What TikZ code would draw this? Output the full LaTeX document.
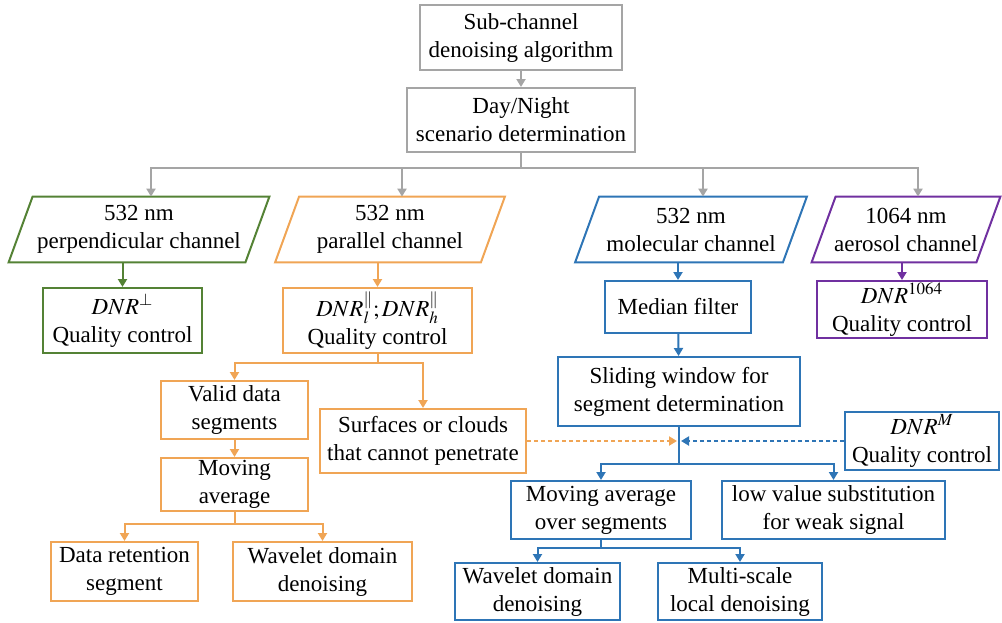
\documentclass[tikz,border=0pt]{standalone}
\usepackage{mathptmx}
\usepackage[no-math]{fontspec}
\setmainfont{Liberation Serif}
\newfontfamily\dnfont{Liberation Serif}
\usetikzlibrary{arrows.meta}
\definecolor{dngray}{RGB}{165,165,165}
\definecolor{dngreen}{RGB}{84,130,53}
\definecolor{dnorange}{RGB}{240,165,85}
\definecolor{dnblue}{RGB}{46,117,182}
\definecolor{dnpurple}{RGB}{112,48,160}

\begin{document}
\begin{tikzpicture}[x=0.5pt, y=-0.5pt,
    every node/.style={font=\dnfont\fontsize{11.5}{14}\selectfont, align=center, inner sep=0pt},
    box/.style={draw=#1, line width=1pt},
    chan/.style={minimum height=32.5pt},
    link/.style={draw=#1, line width=1pt},
    arr/.style={draw=#1, line width=1pt, -{Triangle[width=4.5pt,length=4pt]}},
    dotarr/.style={draw=#1, line width=1pt, dash pattern=on 2pt off 1.5pt, -{Triangle[width=4.5pt,length=4pt]}}]
                \useasboundingbox (0,0) rectangle (1002,622);

                % Top boxes
                \node[box=dngray, minimum width=101pt, minimum height=32.5pt] (sub) at (521,37.5) {Sub-channel\\denoising algorithm};
                \node[box=dngray, minimum width=114pt, minimum height=32pt] (daynight) at (521,120) {Day/Night\\scenario determination};

                % Channels
                \node[chan, minimum width=118pt] (perp) at (139,229.5) {532 nm\\perpendicular channel};
                \node[chan, minimum width=102.5pt] (para) at (390,229.5) {532 nm\\parallel channel};
                \node[chan, minimum width=103.5pt] (mol) at (691,229.5) {532 nm\\molecular channel};
                \node[chan, minimum width=82pt] (aero) at (906,229.5) {1064 nm\\aerosol channel};
                \foreach \n/\c in {perp/dngreen, para/dnorange, mol/dnblue, aero/dnpurple}
                    \draw[line width=1pt, \c] ([xshift=-6pt]\n.south west) -- ([xshift=6pt]\n.north west)
                        -- ([xshift=6pt]\n.north east) -- ([xshift=-6pt]\n.south east) -- cycle;

                % Quality control
                \node[box=dngreen, minimum width=79.5pt, minimum height=32.5pt] (dnrperp) at (122.5,320.5) {$DNR^{\perp}$\\Quality control};
                \node[box=dnorange, minimum width=94.5pt, minimum height=32.5pt] (dnrpar) at (377.5,320.5) {$DNR_l^{\parallel}; DNR_h^{\parallel}$\\Quality control};
                \node[box=dnblue, minimum width=73pt, minimum height=26pt] (median) at (678,307) {Median filter};
                \node[box=dnpurple, minimum width=85pt, minimum height=28.5pt] (dnrlong) at (902,309.5) {$DNR^{1064}$\\Quality control};

                % Parallel channel branch
                \node[box=dnorange, minimum width=73.5pt, minimum height=29pt] (valid) at (234.5,410) {Valid data\\segments};
                \node[box=dnorange, minimum width=103pt, minimum height=32pt] (surf) at (423,441) {Surfaces or clouds\\that cannot penetrate};
                \node[box=dnorange, minimum width=73.5pt, minimum height=26.5pt] (omavg) at (234.5,484.5) {Moving\\average};
                \node[box=dnorange, minimum width=73.5pt, minimum height=29.5pt] (retain) at (124.5,571.5) {Data retention\\segment};
                \node[box=dnorange, minimum width=89.5pt, minimum height=29.5pt] (owave) at (322.5,571.5) {Wavelet domain\\denoising};

                % Molecular channel branch
                \node[box=dnblue, minimum width=121pt, minimum height=34.5pt] (slide) at (679,391.5) {Sliding window for\\segment determination};
                \node[box=dnblue, minimum width=77pt, minimum height=29pt] (dnrm) at (922,441) {$DNR^{M}$\\Quality control};
                \node[box=dnblue, minimum width=90pt, minimum height=29pt] (bmavg) at (601,510) {Moving average\\over segments};
                \node[box=dnblue, minimum width=111.5pt, minimum height=29pt] (lowval) at (833.5,510) {low value substitution\\for weak signal};
                \node[box=dnblue, minimum width=82.5pt, minimum height=28.5pt] (bwave) at (537.5,591.5) {Wavelet domain\\denoising};
                \node[box=dnblue, minimum width=82pt, minimum height=28.5pt] (multi) at (740,591.5) {Multi-scale\\local denoising};

                % Junctions
                \coordinate (gbus) at (521,168);
                \coordinate (obus) at (377.5,363);
                \coordinate (obus2) at (234.5,524);
                \coordinate (mix) at (679,441);
                \coordinate (bbus) at (679,464);
                \coordinate (bbus2) at (601,548);

                % Arrows
                \draw[arr=dngray] (sub) -- (daynight);
                \draw[link=dngray] (daynight) -- (gbus);
                \foreach \n in {perp, para, mol, aero}
                    \draw[arr=dngray] (gbus) -| ([xshift=6pt]\n.north);
                \draw[arr=dngreen] (dnrperp.north |- perp.south) -- (dnrperp);
                \draw[arr=dnorange] (dnrpar.north |- para.south) -- (dnrpar);
                \draw[arr=dnblue] (median.north |- mol.south) -- (median);
                \draw[arr=dnpurple] (dnrlong.north |- aero.south) -- (dnrlong);

                \draw[link=dnorange] (dnrpar) -- (obus);
                \draw[arr=dnorange] (obus) -| (valid);
                \draw[arr=dnorange] (obus) -| (surf);
                \draw[arr=dnorange] (valid) -- (omavg);
                \draw[link=dnorange] (omavg) -- (obus2);
                \draw[arr=dnorange] (obus2) -| (retain);
                \draw[arr=dnorange] (obus2) -| (owave);

                \draw[arr=dnblue] (median) -- (slide);
                \draw[link=dnblue] (slide) -- (bbus);
                \draw[dotarr=dnorange, shorten >=1pt] (surf) -- (mix);
                \draw[dotarr=dnblue, shorten >=1pt] (dnrm) -- (mix);
                \draw[arr=dnblue] (bbus) -| (bmavg);
                \draw[arr=dnblue] (bbus) -| (lowval);
                \draw[link=dnblue] (bmavg) -- (bbus2);
                \draw[arr=dnblue] (bbus2) -| (bwave);
                \draw[arr=dnblue] (bbus2) -| (multi);
\end{tikzpicture}
\end{document}
